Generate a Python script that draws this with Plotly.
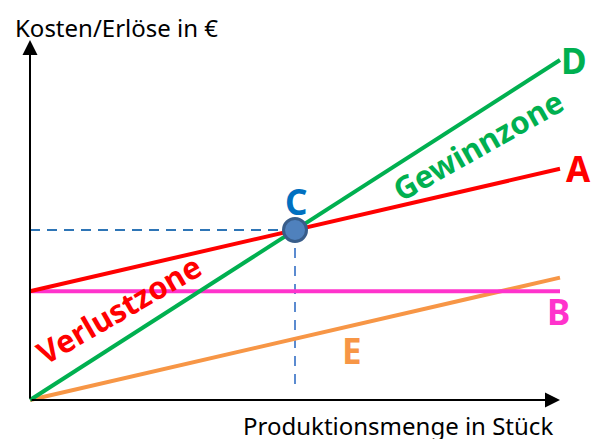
import plotly.graph_objects as go

# ---- data (abstract units) ----
quantity = [0, 100]                 # Produktionsmenge
revenue_D = [0, 100]                # Erlöse (D)
fixed_B = [32, 32]                  # Fixkosten (B)
variable_E = [0, 36]                # variable Kosten (E)
total_A = [32, 68]                  # Gesamtkosten (A)

# break-even point C
slope_D = (revenue_D[1] - revenue_D[0]) / (quantity[1] - quantity[0])
slope_A = (total_A[1] - total_A[0]) / (quantity[1] - quantity[0])
be_x = (total_A[0] - revenue_D[0]) / (slope_D - slope_A)
be_y = revenue_D[0] + slope_D * be_x

# ---- pixel mapping for axis ranges (592x439, origin at px (30,400)) ----
W, H = 592, 439
ox, oy = 30, 400
sx = 5.3   # px per x unit
sy = 3.4   # px per y unit
xr = [-ox / sx, (W - ox) / sx]
yr = [-(H - oy) / sy, oy / sy]

def px(x):  # pixel -> data x
    return (x - ox) / sx

def py(y):  # pixel -> data y
    return (oy - y) / sy

GREEN = "#00B050"
RED = "#FF0000"
MAGENTA = "#FF33CC"
ORANGE = "#F79646"
BLUE = "#0070C0"

fig = go.Figure()

# dashed guides
fig.add_trace(go.Scatter(x=[0, be_x], y=[be_y, be_y], mode="lines",
                         line=dict(color="#2E75B6", width=2, dash="10px,7px"),
                         hoverinfo="skip"))
fig.add_trace(go.Scatter(x=[be_x, be_x], y=[be_y, py(390)], mode="lines",
                         line=dict(color="#5B8BD0", width=2, dash="10px,8px"),
                         hoverinfo="skip"))

# main lines
fig.add_trace(go.Scatter(x=quantity, y=variable_E, mode="lines",
                         line=dict(color=ORANGE, width=4)))
fig.add_trace(go.Scatter(x=quantity, y=fixed_B, mode="lines",
                         line=dict(color=MAGENTA, width=4)))
fig.add_trace(go.Scatter(x=quantity, y=total_A, mode="lines",
                         line=dict(color=RED, width=4)))
fig.add_trace(go.Scatter(x=quantity, y=revenue_D, mode="lines",
                         line=dict(color=GREEN, width=4)))

# break-even marker
fig.add_trace(go.Scatter(x=[be_x], y=[be_y], mode="markers",
                         marker=dict(size=23, color="#4F81BD",
                                     line=dict(color="#385D8A", width=3))))

annotations = []
# axis arrows
annotations.append(dict(x=0, y=py(40), ax=0, ay=0, xref="x", yref="y",
                        axref="x", ayref="y", showarrow=True, arrowhead=2,
                        arrowsize=1.5, arrowwidth=2, arrowcolor="black",
                        standoff=0, startstandoff=0, text=""))
annotations.append(dict(x=px(560), y=0, ax=0, ay=0, xref="x", yref="y",
                        axref="x", ayref="y", showarrow=True, arrowhead=2,
                        arrowsize=1.5, arrowwidth=2, arrowcolor="black",
                        standoff=0, startstandoff=0, text=""))

FONT = "Noto Sans"
# axis titles
annotations.append(dict(x=px(13), y=py(27), xref="x", yref="y", xanchor="left",
                        yanchor="middle", showarrow=False,
                        text="Kosten/Erlöse in €",
                        font=dict(family=FONT, size=24, color="black")))
annotations.append(dict(x=px(555), y=py(425), xref="x", yref="y", xanchor="right",
                        yanchor="middle", showarrow=False,
                        text="Produktionsmenge in Stück",
                        font=dict(family=FONT, size=24, color="black")))

# letters
letters = [("A", 578, 168, RED), ("B", 558, 311, MAGENTA), ("C", 296, 201, BLUE),
           ("D", 574, 60, GREEN), ("E", 352, 350, ORANGE)]
for t, lx, ly, c in letters:
    annotations.append(dict(x=px(lx), y=py(ly), xref="x", yref="y", showarrow=False,
                            xanchor="center", yanchor="middle",
                            text=f"<b>{t}</b>",
                            font=dict(family=FONT, size=35, color=c)))

# zone labels
annotations.append(dict(x=px(119), y=py(309), xref="x", yref="y", showarrow=False,
                        text="<b>Verlustzone</b>", textangle=-30,
                        font=dict(family=FONT, size=31, color=RED)))
annotations.append(dict(x=px(478), y=py(145), xref="x", yref="y", showarrow=False,
                        text="<b>Gewinnzone</b>", textangle=-29.5,
                        font=dict(family=FONT, size=31, color=GREEN)))

fig.update_layout(
    width=W, height=H,
    margin=dict(l=0, r=0, t=0, b=0),
    paper_bgcolor="white", plot_bgcolor="white",
    showlegend=False,
    xaxis=dict(range=xr, visible=False, fixedrange=True),
    yaxis=dict(range=yr, visible=False, fixedrange=True),
    annotations=annotations,
)

fig.write_html("out.html", config=dict(displayModeBar=False),
               post_script="document.body.style.margin='0';document.body.style.overflow='hidden';")
